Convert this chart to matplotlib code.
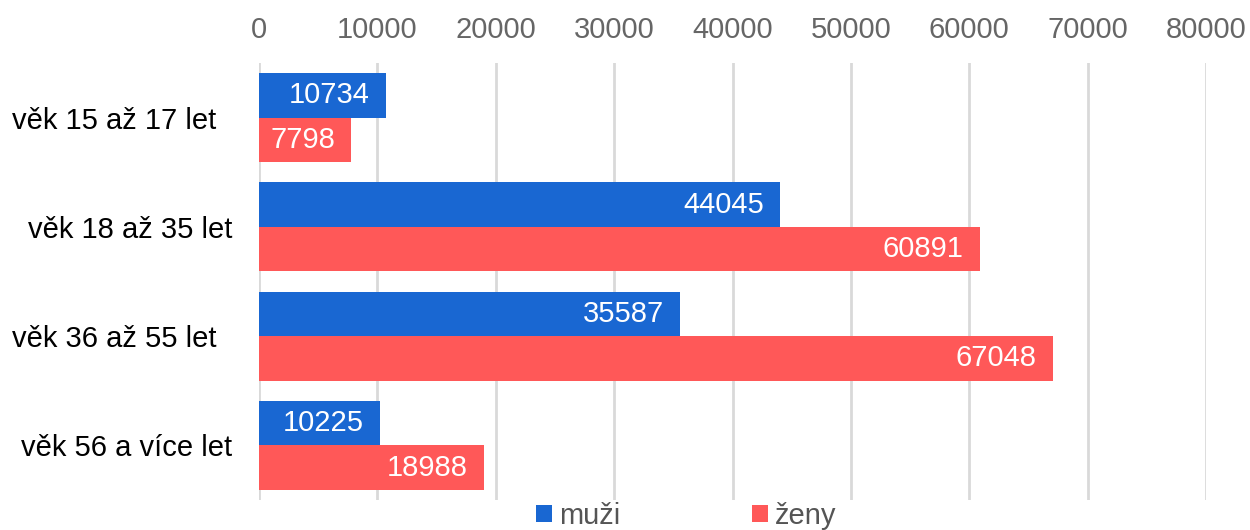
import matplotlib.pyplot as plt
from matplotlib.patches import Patch

plt.rcParams['font.family'] = ['Liberation Sans', 'DejaVu Sans']

# data
kategorie = ['věk 15 až 17 let  ', 'věk 18 až 35 let', 'věk 36 až 55 let  ', 'věk 56 a více let']
muzi = [10734, 44045, 35587, 10225]
zeny = [7798, 60891, 67048, 18988]
ticks = [0, 10000, 20000, 30000, 40000, 50000, 60000, 70000, 80000]

c_muzi = '#1967d2'
c_zeny = '#ff5858'
fs = 21

fig = plt.figure(figsize=(12.5, 5.3), dpi=100)
ax = fig.add_axes([259/1250, 1-500/530, (1206-259)/1250, (500-63)/530])

h = 0.408
ypos = list(range(len(kategorie)))
b1 = ax.barh([y - h/2 for y in ypos], muzi, height=h, color=c_muzi, zorder=2)
b2 = ax.barh([y + h/2 for y in ypos], zeny, height=h, color=c_zeny, zorder=2)

# value labels inside the bar ends
for bars, vals in ((b1, muzi), (b2, zeny)):
    for r, v in zip(bars, vals):
        ax.annotate(str(v), (r.get_width(), r.get_y() + r.get_height()/2),
                    xytext=(-16, 0), textcoords='offset pixels',
                    ha='right', va='center', color='white', fontsize=fs, zorder=3)

ax.set_ylim(3.5, -0.5)
ax.set_xlim(0, 80000)
ax.set_xticks(ticks)
ax.set_xticklabels([str(t) for t in ticks])
ax.xaxis.tick_top()
ax.tick_params(axis='x', length=0, pad=14, labelsize=fs, labelcolor='#666666')
ax.set_yticks(ypos)
ax.set_yticklabels(kategorie)
ax.tick_params(axis='y', length=0, pad=19, labelsize=fs, labelcolor='black')
ax.grid(axis='x', color='#d9d9d9', linewidth=2, zorder=0)
for s in ax.spines.values():
    s.set_visible(False)

handles = [Patch(facecolor=c_muzi, label='muži'), Patch(facecolor=c_zeny, label='ženy')]
leg = fig.legend(handles=handles, loc='center', bbox_to_anchor=(686/1250, 1-516/530),
                 ncol=2, frameon=False, fontsize=fs, handlelength=0.55, handleheight=0.55,
                 handletextpad=0.25, columnspacing=4.5, borderpad=0)
for t in leg.get_texts():
    t.set_color('#555555')

fig.savefig('out.png', dpi=100)
